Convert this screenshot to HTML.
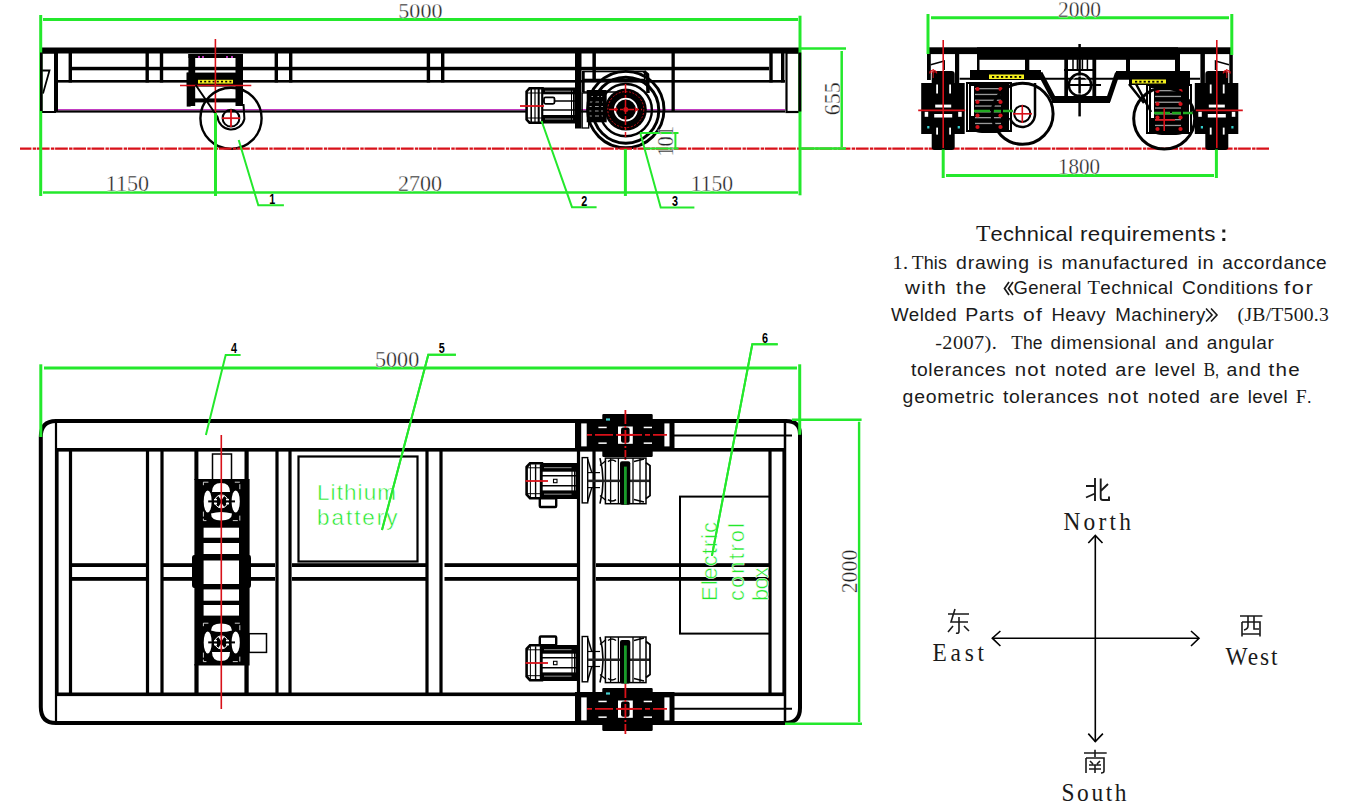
<!DOCTYPE html>
<html><head><meta charset="utf-8"><style>
html,body{margin:0;padding:0;background:#fff;overflow:hidden;width:1345px;height:801px;}
svg{display:block;}
</style></head><body>
<svg width="1345" height="801" viewBox="0 0 1345 801">
<rect width="1345" height="801" fill="#fff"/>
<rect x="40" y="47.5" width="760" height="6" fill="#000" />
<rect x="72" y="66.8" width="697" height="3.5" fill="#000" />
<rect x="55" y="80" width="730" height="2.6" fill="#000" />
<rect x="56" y="109" width="729" height="1.4" fill="#c23cc2" />
<rect x="56" y="110.4" width="729" height="2.2" fill="#000" />
<rect x="41.5" y="52.5" width="13.5" height="59.5" fill="none" stroke="#000" stroke-width="2" />
<polyline points="42,70.5 49.5,70.5 43,93.5" fill="none" stroke="#000" stroke-width="1.8" />
<rect x="786.5" y="52.5" width="13" height="59.5" fill="none" stroke="#000" stroke-width="2.2" />
<rect x="55" y="52.5" width="3" height="59" fill="#000" />
<rect x="68.6" y="52.5" width="3.4" height="30" fill="#000" />
<rect x="145.5" y="52.5" width="3.4" height="30" fill="#000" />
<rect x="159.8" y="52.5" width="3.4" height="30" fill="#000" />
<rect x="274.6" y="52.5" width="3.4" height="30" fill="#000" />
<rect x="289" y="52.5" width="3.4" height="30" fill="#000" />
<rect x="426.7" y="52.5" width="3.4" height="30" fill="#000" />
<rect x="441" y="52.5" width="3.4" height="30" fill="#000" />
<rect x="769.3" y="52.5" width="3.4" height="30" fill="#000" />
<rect x="781" y="52.5" width="3.4" height="30" fill="#000" />
<rect x="575" y="52.5" width="6.5" height="76" fill="#000" />
<rect x="592.4" y="52.5" width="3.5" height="28" fill="#000" />
<rect x="671.5" y="52.5" width="3.3" height="59" fill="#000" />
<rect x="188.4" y="54" width="6.8" height="52" fill="#000" />
<rect x="186.7" y="72.6" width="4" height="34" fill="#000" />
<rect x="235.5" y="54" width="7.5" height="52" fill="#000" />
<rect x="238" y="72" width="5" height="34" fill="#000" />
<rect x="188.4" y="54" width="54.6" height="4" fill="#000" />
<rect x="186.7" y="72.6" width="56.3" height="14" fill="#000" />
<rect x="188.4" y="98.4" width="54.6" height="4" fill="#000" />
<rect x="198" y="79.8" width="35" height="3.8" fill="#f4f01e" />
<rect x="200.0" y="80.8" width="2" height="1.6" fill="#000" />
<rect x="204.2" y="80.8" width="2" height="1.6" fill="#000" />
<rect x="208.4" y="80.8" width="2" height="1.6" fill="#000" />
<rect x="212.6" y="80.8" width="2" height="1.6" fill="#000" />
<rect x="216.8" y="80.8" width="2" height="1.6" fill="#000" />
<rect x="221.0" y="80.8" width="2" height="1.6" fill="#000" />
<rect x="225.2" y="80.8" width="2" height="1.6" fill="#000" />
<rect x="229.4" y="80.8" width="2" height="1.6" fill="#000" />
<rect x="198" y="56" width="2" height="2" fill="#c23cc2" />
<rect x="202" y="56" width="2" height="2" fill="#c23cc2" />
<rect x="226" y="56" width="2" height="2" fill="#c23cc2" />
<rect x="231" y="56" width="2" height="2" fill="#c23cc2" />
<line x1="180" y1="85.5" x2="251.3" y2="85.5" stroke="#d81119" stroke-width="1.6" />
<line x1="215.4" y1="39" x2="215.4" y2="116" stroke="#d81119" stroke-width="1.6" />
<circle cx="231" cy="118.3" r="30.6" fill="none" stroke="#000" stroke-width="2.4" />
<circle cx="231" cy="118.2" r="8.4" fill="none" stroke="#000" stroke-width="2" />
<line x1="222" y1="118.2" x2="240" y2="118.2" stroke="#d81119" stroke-width="1.8" />
<line x1="231" y1="109.5" x2="231" y2="127" stroke="#d81119" stroke-width="1.8" />
<path d="M195.7,85 L217.6,117 A13.6,13.6 0 0 0 244.4,119 L243.5,104" fill="none" stroke="#000" stroke-width="2" />
<rect x="583.3" y="71.5" width="61.5" height="8" fill="none" stroke="#000" stroke-width="1.6" />
<rect x="582" y="71" width="2.7" height="21.5" fill="#000" />
<line x1="583" y1="92" x2="619" y2="92" stroke="#000" stroke-width="1.6" />
<path d="M644,71.5 L647.5,74.5 L648,93" fill="none" stroke="#000" stroke-width="3.5" />
<rect x="586.7" y="90" width="20" height="32.3" fill="#000" />
<line x1="589" y1="96.5" x2="603" y2="96.5" stroke="#999" stroke-width="1.1" stroke-dasharray="4 2"/>
<line x1="589" y1="102" x2="603" y2="102" stroke="#999" stroke-width="1.1" stroke-dasharray="4 2"/>
<line x1="589" y1="106.5" x2="603" y2="106.5" stroke="#999" stroke-width="1.1" stroke-dasharray="4 2"/>
<line x1="589" y1="111" x2="603" y2="111" stroke="#999" stroke-width="1.1" stroke-dasharray="4 2"/>
<line x1="589" y1="116" x2="603" y2="116" stroke="#999" stroke-width="1.1" stroke-dasharray="4 2"/>
<circle cx="625.8" cy="109.6" r="38.2" fill="none" stroke="#000" stroke-width="2.9" />
<circle cx="625.8" cy="110.19999999999999" r="33" fill="none" stroke="#000" stroke-width="3" />
<circle cx="625.8" cy="110.1" r="26.1" fill="none" stroke="#000" stroke-width="2.4" />
<circle cx="625.8" cy="109.6" r="21" fill="#000" stroke="#000" stroke-width="0" />
<circle cx="625.8" cy="109.6" r="18" fill="none" stroke="#d81119" stroke-width="0.9" stroke-dasharray="2 1.5"/>
<circle cx="625.8" cy="109.6" r="11" fill="none" stroke="#fff" stroke-width="1.8" />
<line x1="625.5" y1="84" x2="625.5" y2="137" stroke="#d81119" stroke-width="1.5" stroke-dasharray="9 2 3 2"/>
<line x1="609" y1="109.6" x2="642" y2="109.6" stroke="#d81119" stroke-width="1.5" stroke-dasharray="9 2 3 2"/>
<circle cx="625.8" cy="109.6" r="2.5" fill="#d81119" stroke="#d81119" stroke-width="0" />
<path d="M612.8,109.6 L616.8,107.1 L616.8,112.1 Z M638.8,109.6 L634.8,107.1 L634.8,112.1 Z" fill="#d81119" stroke="#d81119" stroke-width="0" />
<path d="M526.6,91.5 L529.5,88.3 L542.5,88.3 L542.5,122.7 L529.5,122.7 L526.6,119.5 Z" fill="#fff" stroke="#000" stroke-width="2.6"/>
<line x1="531.2" y1="89" x2="531.2" y2="122" stroke="#000" stroke-width="1.6" />
<line x1="535" y1="89" x2="535" y2="122" stroke="#000" stroke-width="1.2" />
<line x1="538.7" y1="89" x2="538.7" y2="122" stroke="#000" stroke-width="2" />
<line x1="527" y1="93" x2="542" y2="93" stroke="#000" stroke-width="1" />
<line x1="527" y1="118" x2="542" y2="118" stroke="#000" stroke-width="1" />
<rect x="542.5" y="88.3" width="32.5" height="34.4" fill="#fff" stroke="#000" stroke-width="1.6"/>
<rect x="542.5" y="88.3" width="32.5" height="6" fill="#000" />
<rect x="542.5" y="115" width="32.5" height="7.7" fill="#000" />
<line x1="545" y1="91.2" x2="573" y2="91.2" stroke="#888" stroke-width="1.1" />
<line x1="545" y1="119" x2="573" y2="119" stroke="#888" stroke-width="1.1" />
<line x1="542.5" y1="101" x2="575" y2="101" stroke="#000" stroke-width="1.3" />
<line x1="542.5" y1="110" x2="575" y2="110" stroke="#000" stroke-width="1.3" />
<rect x="544" y="97.3" width="10.5" height="6.5" rx="1.5" fill="#fff" stroke="#000" stroke-width="1.8"/>
<line x1="571.5" y1="89" x2="571.5" y2="122" stroke="#000" stroke-width="1" />
<line x1="573.5" y1="89" x2="573.5" y2="122" stroke="#000" stroke-width="1" />
<rect x="582.2" y="93" width="6.5" height="35" fill="none" stroke="#000" stroke-width="1.3" />
<line x1="520" y1="106" x2="544" y2="106" stroke="#d81119" stroke-width="1.8" />
<line x1="20" y1="148.6" x2="1269" y2="148.6" stroke="#d81119" stroke-width="2.2" stroke-dasharray="12.7 1.3 3.4 0.8" stroke-dashoffset="1.3"/>
<line x1="40.7" y1="15" x2="40.7" y2="196" stroke="#24e82c" stroke-width="3" />
<line x1="800" y1="15.7" x2="800" y2="195.3" stroke="#24e82c" stroke-width="3" />
<line x1="43" y1="19.5" x2="798" y2="19.5" stroke="#24e82c" stroke-width="3" />
<line x1="43" y1="192.5" x2="798" y2="192.5" stroke="#24e82c" stroke-width="2.6" />
<line x1="215.5" y1="113" x2="215.5" y2="196" stroke="#24e82c" stroke-width="3" />
<line x1="625.4" y1="149" x2="625.4" y2="196" stroke="#24e82c" stroke-width="3" />
<line x1="800" y1="48.5" x2="846" y2="48.5" stroke="#24e82c" stroke-width="2.5" />
<line x1="841.7" y1="51" x2="841.7" y2="147" stroke="#24e82c" stroke-width="2.5" />
<line x1="800" y1="148.6" x2="846" y2="148.6" stroke="#24e82c" stroke-width="2.5" />
<rect x="40" y="52.5" width="2.5" height="58.5" fill="#000" />
<rect x="798.5" y="52.5" width="2.8" height="59" fill="#000" />
<polyline points="238.7,140 258.3,205.3 283.9,205.3" fill="none" stroke="#24e82c" stroke-width="2" />
<polyline points="541.6,121 572,207.2 596.6,207.2" fill="none" stroke="#24e82c" stroke-width="2" />
<polyline points="640.4,133.4 660.7,207.4 694.4,207.4" fill="none" stroke="#24e82c" stroke-width="2" />
<line x1="640" y1="133" x2="678.5" y2="133" stroke="#24e82c" stroke-width="2" />
<line x1="645" y1="148.6" x2="678.5" y2="148.6" stroke="#24e82c" stroke-width="2" />
<line x1="675.4" y1="133" x2="675.4" y2="148.6" stroke="#24e82c" stroke-width="2" />
<text x="398.34" y="17.70" font-family="Liberation Serif" font-size="21.48" fill="#222" stroke="#fff" stroke-width="0.35" textLength="44.12" lengthAdjust="spacingAndGlyphs">5000</text>
<text x="105.82" y="190.50" font-family="Liberation Serif" font-size="22.07" fill="#222" stroke="#fff" stroke-width="0.35" textLength="43.27" lengthAdjust="spacingAndGlyphs">1150</text>
<text x="398.00" y="190.50" font-family="Liberation Serif" font-size="22.52" fill="#222" stroke="#fff" stroke-width="0.35" textLength="44.00" lengthAdjust="spacingAndGlyphs">2700</text>
<text x="690.81" y="190.50" font-family="Liberation Serif" font-size="22.22" fill="#222" stroke="#fff" stroke-width="0.35" textLength="42.38" lengthAdjust="spacingAndGlyphs">1150</text>
<text x="0" y="0" transform="translate(840.20,115.22) rotate(-90)" font-family="Liberation Serif" font-size="23.11" fill="#222" stroke="#fff" stroke-width="0.35" textLength="33.05" lengthAdjust="spacingAndGlyphs">655</text>
<text x="0" y="0" transform="translate(673.20,156.61) rotate(-90)" font-family="Liberation Serif" font-size="22.67" fill="#222" stroke="#fff" stroke-width="0.35" textLength="30.51" lengthAdjust="spacingAndGlyphs">101</text>
<text x="269.2" y="203.7" font-family="Liberation Sans" font-weight="bold" font-size="14.5" fill="#000" textLength="6" lengthAdjust="spacingAndGlyphs">1</text>
<text x="581.3" y="205.8" font-family="Liberation Sans" font-weight="bold" font-size="14.5" fill="#000" textLength="6" lengthAdjust="spacingAndGlyphs">2</text>
<text x="671.9" y="205.8" font-family="Liberation Sans" font-weight="bold" font-size="14.5" fill="#000" textLength="6" lengthAdjust="spacingAndGlyphs">3</text>
<rect x="927" y="47.3" width="305" height="6.8" fill="#000" />
<rect x="977" y="47.3" width="201" height="12.5" fill="#000" />
<rect x="927" y="53" width="3.8" height="27" fill="#000" />
<rect x="955" y="53" width="4.2" height="41" fill="#000" />
<rect x="977" y="59" width="2.5" height="11" fill="#000" />
<rect x="1025" y="59" width="4.3" height="11" fill="#000" />
<rect x="1126" y="59" width="4" height="12" fill="#000" />
<rect x="1175" y="59" width="3" height="12" fill="#000" />
<rect x="1178" y="53" width="2" height="20" fill="#000" />
<rect x="1200.4" y="53" width="4.5" height="41" fill="#000" />
<rect x="1229.3" y="53" width="3.5" height="32" fill="#000" />
<polyline points="930.7,64.7 944.2,61 944.2,70" fill="none" stroke="#000" stroke-width="1.5" />
<polyline points="1229,64.7 1215.5,61 1215.5,70" fill="none" stroke="#000" stroke-width="1.5" />
<line x1="959.6" y1="78.8" x2="1200" y2="78.8" stroke="#000" stroke-width="2" />
<rect x="970" y="70" width="71" height="10" fill="#000" />
<rect x="1116" y="71" width="74" height="7" fill="#000" />
<rect x="1129" y="71" width="61" height="14" fill="#000" />
<path d="M1040,73 L1054,99.5 L1108.5,99.5 L1117.5,73" fill="none" stroke="#000" stroke-width="5" />
<rect x="1052" y="96" width="58" height="7" fill="#000" />
<rect x="1064.3" y="59" width="3.7" height="37" fill="#000" />
<rect x="1092.4" y="59" width="3.8" height="37" fill="#000" />
<line x1="1073" y1="59" x2="1073" y2="70" stroke="#000" stroke-width="1.5" />
<line x1="1077.4" y1="59" x2="1077.4" y2="70" stroke="#000" stroke-width="1.5" />
<line x1="1082.4" y1="59" x2="1082.4" y2="70" stroke="#000" stroke-width="1.5" />
<line x1="1087.4" y1="59" x2="1087.4" y2="70" stroke="#000" stroke-width="1.5" />
<line x1="1064" y1="70" x2="1096" y2="70" stroke="#000" stroke-width="2" />
<line x1="1079.6" y1="44" x2="1079.6" y2="116.4" stroke="#000" stroke-width="2.5" />
<circle cx="1080" cy="85" r="11.2" fill="none" stroke="#000" stroke-width="2.5" />
<circle cx="1080" cy="85" r="9" fill="none" stroke="#fff" stroke-width="0.8" />
<line x1="1070" y1="85" x2="1101" y2="85" stroke="#000" stroke-width="2" />
<rect x="967" y="83" width="44" height="48" fill="none" stroke="#000" stroke-width="2" />
<rect x="969" y="84" width="40" height="46" fill="#000" />
<rect x="975" y="88.0" width="26" height="1.3" fill="#999" />
<rect x="975" y="93.8" width="26" height="1.3" fill="#999" />
<rect x="975" y="99.6" width="26" height="1.3" fill="#999" />
<rect x="975" y="105.4" width="26" height="1.3" fill="#999" />
<rect x="975" y="111.2" width="26" height="1.3" fill="#999" />
<rect x="975" y="117.0" width="26" height="1.3" fill="#999" />
<rect x="975" y="122.8" width="26" height="1.3" fill="#999" />
<rect x="971" y="86" width="3" height="30" fill="#fff" />
<circle cx="977.5" cy="89" r="2.1" fill="#d81119" stroke="#d81119" stroke-width="0" />
<circle cx="1000.5" cy="89" r="2.1" fill="#d81119" stroke="#d81119" stroke-width="0" />
<circle cx="977.5" cy="102" r="2.1" fill="#d81119" stroke="#d81119" stroke-width="0" />
<circle cx="1000.5" cy="102" r="2.1" fill="#d81119" stroke="#d81119" stroke-width="0" />
<circle cx="977.5" cy="115.5" r="2.1" fill="#d81119" stroke="#d81119" stroke-width="0" />
<circle cx="1000.5" cy="115.5" r="2.1" fill="#d81119" stroke="#d81119" stroke-width="0" />
<circle cx="977.5" cy="127" r="2.1" fill="#d81119" stroke="#d81119" stroke-width="0" />
<circle cx="1000.5" cy="127" r="2.1" fill="#d81119" stroke="#d81119" stroke-width="0" />
<line x1="974" y1="111" x2="1013" y2="111" stroke="#2a2" stroke-width="2.5" stroke-dasharray="16 2 9 2"/>
<path d="M971,120 Q971,132 982,132 L996,132 Q1007,132 1007,120" fill="none" stroke="#000" stroke-width="2"/>
<rect x="1147" y="85" width="44" height="48" fill="none" stroke="#000" stroke-width="2" />
<rect x="1149" y="86" width="40" height="46" fill="#000" />
<rect x="1155" y="90.0" width="26" height="1.3" fill="#999" />
<rect x="1155" y="95.8" width="26" height="1.3" fill="#999" />
<rect x="1155" y="101.6" width="26" height="1.3" fill="#999" />
<rect x="1155" y="107.4" width="26" height="1.3" fill="#999" />
<rect x="1155" y="113.2" width="26" height="1.3" fill="#999" />
<rect x="1155" y="119.0" width="26" height="1.3" fill="#999" />
<rect x="1155" y="124.8" width="26" height="1.3" fill="#999" />
<rect x="1151" y="88" width="3" height="30" fill="#fff" />
<circle cx="1157.5" cy="91" r="2.1" fill="#d81119" stroke="#d81119" stroke-width="0" />
<circle cx="1180.5" cy="91" r="2.1" fill="#d81119" stroke="#d81119" stroke-width="0" />
<circle cx="1157.5" cy="104" r="2.1" fill="#d81119" stroke="#d81119" stroke-width="0" />
<circle cx="1180.5" cy="104" r="2.1" fill="#d81119" stroke="#d81119" stroke-width="0" />
<circle cx="1157.5" cy="117.5" r="2.1" fill="#d81119" stroke="#d81119" stroke-width="0" />
<circle cx="1180.5" cy="117.5" r="2.1" fill="#d81119" stroke="#d81119" stroke-width="0" />
<circle cx="1157.5" cy="129" r="2.1" fill="#d81119" stroke="#d81119" stroke-width="0" />
<circle cx="1180.5" cy="129" r="2.1" fill="#d81119" stroke="#d81119" stroke-width="0" />
<line x1="1154" y1="113" x2="1193" y2="113" stroke="#2a2" stroke-width="2.5" stroke-dasharray="16 2 9 2"/>
<path d="M1151,122 Q1151,134 1162,134 L1176,134 Q1187,134 1187,122" fill="none" stroke="#000" stroke-width="2"/>
<rect x="989" y="74.5" width="35" height="4.5" fill="#f4f01e" />
<rect x="1132" y="79.5" width="34" height="4" fill="#f4f01e" />
<rect x="992.0" y="76" width="2.2" height="1.8" fill="#000" />
<rect x="1135.0" y="80.8" width="2.2" height="1.8" fill="#000" />
<rect x="996.5" y="76" width="2.2" height="1.8" fill="#000" />
<rect x="1139.3" y="80.8" width="2.2" height="1.8" fill="#000" />
<rect x="1001.0" y="76" width="2.2" height="1.8" fill="#000" />
<rect x="1143.6" y="80.8" width="2.2" height="1.8" fill="#000" />
<rect x="1005.5" y="76" width="2.2" height="1.8" fill="#000" />
<rect x="1147.9" y="80.8" width="2.2" height="1.8" fill="#000" />
<rect x="1010.0" y="76" width="2.2" height="1.8" fill="#000" />
<rect x="1152.2" y="80.8" width="2.2" height="1.8" fill="#000" />
<rect x="1014.5" y="76" width="2.2" height="1.8" fill="#000" />
<rect x="1156.5" y="80.8" width="2.2" height="1.8" fill="#000" />
<rect x="1019.0" y="76" width="2.2" height="1.8" fill="#000" />
<rect x="1160.8" y="80.8" width="2.2" height="1.8" fill="#000" />
<circle cx="1022.6" cy="113.8" r="30.5" fill="none" stroke="#000" stroke-width="3" />
<circle cx="1022.3" cy="113.8" r="8.1" fill="none" stroke="#000" stroke-width="2" />
<line x1="1013" y1="113.8" x2="1032" y2="113.8" stroke="#d81119" stroke-width="1.6" />
<line x1="1022.3" y1="105" x2="1022.3" y2="123" stroke="#d81119" stroke-width="1.6" />
<path d="M1035,83 L1035,115 A12.8,12.8 0 0 1 1010,118" fill="none" stroke="#000" stroke-width="2.5" />
<circle cx="1164.2" cy="118.6" r="30.5" fill="none" stroke="#000" stroke-width="3" />
<line x1="1155" y1="120" x2="1175" y2="120" stroke="#d81119" stroke-width="1.6" />
<line x1="1164.2" y1="108" x2="1164.2" y2="131" stroke="#d81119" stroke-width="1.6" />
<path d="M1129,84 L1144,103 M1136,84 L1151,112" fill="none" stroke="#000" stroke-width="2.5" />
<rect x="921.2" y="83" width="43.5" height="51" fill="#000" />
<rect x="931.7" y="71" width="23" height="79" rx="3" fill="#000"/>
<rect x="936.2" y="84.5" width="1.8" height="9" fill="#fff" />
<rect x="936.2" y="127.6" width="1.8" height="7" fill="#fff" />
<rect x="949.2" y="84.5" width="1.8" height="9" fill="#fff" />
<rect x="949.2" y="127.6" width="1.8" height="7" fill="#fff" />
<rect x="935.2" y="104.6" width="16" height="2.9" fill="#fff" />
<rect x="934.2" y="114" width="18" height="3.5" fill="#fff" />
<rect x="924.7" y="111.8" width="3.5" height="5" fill="#fff" />
<rect x="958.2" y="111.8" width="3.5" height="5" fill="#fff" />
<rect x="927.2" y="126" width="2.2" height="2.5" fill="#3cc" />
<rect x="957.7" y="126" width="2.2" height="2.5" fill="#3cc" />
<line x1="943.2" y1="40" x2="943.2" y2="148" stroke="#d81119" stroke-width="1.6" />
<line x1="918.2" y1="110.4" x2="965.2" y2="110.4" stroke="#d81119" stroke-width="1.6" />
<path d="M929.7,73.5 a3.5,3.5 0 0 1 7,0 M933.2,69 L933.2,78 M929.2,72 L937.2,72" fill="none" stroke="#d81119" stroke-width="1" transform="translate(943.2,0) scale(1,1) translate(-943.2,0)"/>
<rect x="1194.8" y="83" width="43.5" height="51" fill="#000" />
<rect x="1205.3" y="71" width="23" height="79" rx="3" fill="#000"/>
<rect x="1209.8" y="84.5" width="1.8" height="9" fill="#fff" />
<rect x="1209.8" y="127.6" width="1.8" height="7" fill="#fff" />
<rect x="1222.8" y="84.5" width="1.8" height="9" fill="#fff" />
<rect x="1222.8" y="127.6" width="1.8" height="7" fill="#fff" />
<rect x="1208.8" y="104.6" width="16" height="2.9" fill="#fff" />
<rect x="1207.8" y="114" width="18" height="3.5" fill="#fff" />
<rect x="1198.3" y="111.8" width="3.5" height="5" fill="#fff" />
<rect x="1231.8" y="111.8" width="3.5" height="5" fill="#fff" />
<rect x="1200.8" y="126" width="2.2" height="2.5" fill="#3cc" />
<rect x="1231.3" y="126" width="2.2" height="2.5" fill="#3cc" />
<line x1="1216.8" y1="40" x2="1216.8" y2="148" stroke="#d81119" stroke-width="1.6" />
<line x1="1195.8" y1="110.4" x2="1242.8" y2="110.4" stroke="#d81119" stroke-width="1.6" />
<path d="M1203.3,73.5 a3.5,3.5 0 0 1 7,0 M1206.8,69 L1206.8,78 M1202.8,72 L1210.8,72" fill="none" stroke="#d81119" stroke-width="1" transform="translate(1216.8,0) scale(-1,1) translate(-1216.8,0)"/>
<line x1="928" y1="14" x2="928" y2="54" stroke="#24e82c" stroke-width="3" />
<line x1="1231.8" y1="14" x2="1231.8" y2="55" stroke="#24e82c" stroke-width="3" />
<line x1="931" y1="17.8" x2="1229" y2="17.8" stroke="#24e82c" stroke-width="3" />
<line x1="943.2" y1="149.5" x2="943.2" y2="178" stroke="#24e82c" stroke-width="3" />
<line x1="1216.4" y1="149.5" x2="1216.4" y2="178" stroke="#24e82c" stroke-width="3" />
<line x1="946" y1="175.6" x2="1214" y2="175.6" stroke="#24e82c" stroke-width="3" />
<text x="1058.00" y="16.70" font-family="Liberation Serif" font-size="22.52" fill="#222" stroke="#fff" stroke-width="0.35" textLength="42.90" lengthAdjust="spacingAndGlyphs">2000</text>
<text x="1057.99" y="173.80" font-family="Liberation Serif" font-size="22.81" fill="#222" stroke="#fff" stroke-width="0.35" textLength="42.03" lengthAdjust="spacingAndGlyphs">1800</text>
<text x="975.9" y="241" font-family="Liberation Sans" font-size="21" fill="#1a1a1a" letter-spacing="0.29" textLength="97.3" lengthAdjust="spacingAndGlyphs"><tspan font-family="Liberation Serif" font-size="22.68">T</tspan>echnical</text>
<text x="1079.9" y="241" font-family="Liberation Sans" font-size="21" fill="#1a1a1a" letter-spacing="0.44" textLength="135.9" lengthAdjust="spacingAndGlyphs">requirements</text>
<rect x="1222.3" y="229.5" width="3" height="3" fill="#1a1a1a" />
<rect x="1222.3" y="238" width="3" height="3" fill="#1a1a1a" />
<text x="892.6" y="269" font-family="Liberation Sans" font-size="17.5" fill="#1a1a1a" letter-spacing="0.35" textLength="15.9" lengthAdjust="spacingAndGlyphs"><tspan font-family="Liberation Serif" font-size="18.90">1.</tspan></text>
<text x="911.8" y="269" font-family="Liberation Sans" font-size="17.5" fill="#1a1a1a" letter-spacing="0.13" textLength="35.2" lengthAdjust="spacingAndGlyphs"><tspan font-family="Liberation Serif" font-size="18.90">T</tspan>his</text>
<text x="956.1" y="269" font-family="Liberation Sans" font-size="17.5" fill="#1a1a1a" letter-spacing="0.71" textLength="73.7" lengthAdjust="spacingAndGlyphs">drawing</text>
<text x="1038.1" y="269" font-family="Liberation Sans" font-size="17.5" fill="#1a1a1a" letter-spacing="0.49" textLength="15.1" lengthAdjust="spacingAndGlyphs">is</text>
<text x="1061.5" y="269" font-family="Liberation Sans" font-size="17.5" fill="#1a1a1a" letter-spacing="0.68" textLength="127.3" lengthAdjust="spacingAndGlyphs">manufactured</text>
<text x="1197.4" y="269" font-family="Liberation Sans" font-size="17.5" fill="#1a1a1a" letter-spacing="0.70" textLength="17.1" lengthAdjust="spacingAndGlyphs">in</text>
<text x="1222.2" y="269" font-family="Liberation Sans" font-size="17.5" fill="#1a1a1a" letter-spacing="0.59" textLength="105.2" lengthAdjust="spacingAndGlyphs">accordance</text>
<text x="905.1" y="294" font-family="Liberation Sans" font-size="17.5" fill="#1a1a1a" letter-spacing="1.08" textLength="41.9" lengthAdjust="spacingAndGlyphs">with</text>
<text x="956.1" y="294" font-family="Liberation Sans" font-size="17.5" fill="#1a1a1a" letter-spacing="0.90" textLength="31.1" lengthAdjust="spacingAndGlyphs">the</text>
<text x="1013.5" y="294" font-family="Liberation Sans" font-size="17.5" fill="#1a1a1a" letter-spacing="0.34" textLength="68.2" lengthAdjust="spacingAndGlyphs">General</text>
<path d="M1009,282 L1004.5,288.5 L1009,295 M1013,282 L1008.5,288.5 L1013,295" fill="none" stroke="#1a1a1a" stroke-width="1.7" />
<text x="1087.4" y="294" font-family="Liberation Sans" font-size="17.5" fill="#1a1a1a" letter-spacing="0.46" textLength="86.1" lengthAdjust="spacingAndGlyphs"><tspan font-family="Liberation Serif" font-size="18.90">T</tspan>echnical</text>
<text x="1182.0" y="294" font-family="Liberation Sans" font-size="17.5" fill="#1a1a1a" letter-spacing="0.56" textLength="96.7" lengthAdjust="spacingAndGlyphs">Conditions</text>
<text x="1284.0" y="294" font-family="Liberation Sans" font-size="17.5" fill="#1a1a1a" letter-spacing="1.36" textLength="30.6" lengthAdjust="spacingAndGlyphs">for</text>
<text x="890.9" y="321" font-family="Liberation Sans" font-size="17.5" fill="#1a1a1a" letter-spacing="0.48" textLength="66.2" lengthAdjust="spacingAndGlyphs">Welded</text>
<text x="965.3" y="321" font-family="Liberation Sans" font-size="17.5" fill="#1a1a1a" letter-spacing="0.69" textLength="49.5" lengthAdjust="spacingAndGlyphs">Parts</text>
<text x="1023.0" y="321" font-family="Liberation Sans" font-size="17.5" fill="#1a1a1a" letter-spacing="1.12" textLength="20.2" lengthAdjust="spacingAndGlyphs">of</text>
<text x="1051.5" y="321" font-family="Liberation Sans" font-size="17.5" fill="#1a1a1a" letter-spacing="0.38" textLength="54.4" lengthAdjust="spacingAndGlyphs">Heavy</text>
<text x="1115.3" y="321" font-family="Liberation Sans" font-size="17.5" fill="#1a1a1a" letter-spacing="0.43" textLength="90.5" lengthAdjust="spacingAndGlyphs">Machinery</text>
<path d="M1206,308.5 L1212,315 L1206,321.5 M1211,308.5 L1217,315 L1211,321.5" fill="none" stroke="#1a1a1a" stroke-width="1.6" />
<text x="1237.6" y="321" font-family="Liberation Sans" font-size="17.5" fill="#1a1a1a" letter-spacing="0.24" textLength="91.5" lengthAdjust="spacingAndGlyphs"><tspan font-family="Liberation Serif" font-size="18.90">(JB/T500.3</tspan></text>
<text x="935.2" y="349" font-family="Liberation Sans" font-size="17.5" fill="#1a1a1a" letter-spacing="0.39" textLength="62.0" lengthAdjust="spacingAndGlyphs"><tspan font-family="Liberation Serif" font-size="18.90">-2007).</tspan></text>
<text x="1011.3" y="349" font-family="Liberation Sans" font-size="17.5" fill="#1a1a1a" letter-spacing="0.01" textLength="31.1" lengthAdjust="spacingAndGlyphs"><tspan font-family="Liberation Serif" font-size="18.90">T</tspan>he</text>
<text x="1050.6" y="349" font-family="Liberation Sans" font-size="17.5" fill="#1a1a1a" letter-spacing="0.45" textLength="105.8" lengthAdjust="spacingAndGlyphs">dimensional</text>
<text x="1164.9" y="349" font-family="Liberation Sans" font-size="17.5" fill="#1a1a1a" letter-spacing="0.67" textLength="34.2" lengthAdjust="spacingAndGlyphs">and</text>
<text x="1206.8" y="349" font-family="Liberation Sans" font-size="17.5" fill="#1a1a1a" letter-spacing="0.53" textLength="67.6" lengthAdjust="spacingAndGlyphs">angular</text>
<text x="911.0" y="376.3" font-family="Liberation Sans" font-size="17.5" fill="#1a1a1a" letter-spacing="0.59" textLength="95.4" lengthAdjust="spacingAndGlyphs">tolerances</text>
<text x="1014.7" y="376.3" font-family="Liberation Sans" font-size="17.5" fill="#1a1a1a" letter-spacing="1.01" textLength="31.9" lengthAdjust="spacingAndGlyphs">not</text>
<text x="1054.8" y="376.3" font-family="Liberation Sans" font-size="17.5" fill="#1a1a1a" letter-spacing="0.72" textLength="52.8" lengthAdjust="spacingAndGlyphs">noted</text>
<text x="1115.3" y="376.3" font-family="Liberation Sans" font-size="17.5" fill="#1a1a1a" letter-spacing="0.85" textLength="31.7" lengthAdjust="spacingAndGlyphs">are</text>
<text x="1154.6" y="376.3" font-family="Liberation Sans" font-size="17.5" fill="#1a1a1a" letter-spacing="0.41" textLength="41.1" lengthAdjust="spacingAndGlyphs">level</text>
<text x="1203.4" y="376.3" font-family="Liberation Sans" font-size="17.5" fill="#1a1a1a" letter-spacing="-0.41" textLength="15.4" lengthAdjust="spacingAndGlyphs"><tspan font-family="Liberation Serif" font-size="18.90">B</tspan>,</text>
<text x="1226.5" y="376.3" font-family="Liberation Sans" font-size="17.5" fill="#1a1a1a" letter-spacing="0.79" textLength="35.1" lengthAdjust="spacingAndGlyphs">and</text>
<text x="1268.4" y="376.3" font-family="Liberation Sans" font-size="17.5" fill="#1a1a1a" letter-spacing="1.09" textLength="32.5" lengthAdjust="spacingAndGlyphs">the</text>
<text x="902.6" y="402.8" font-family="Liberation Sans" font-size="17.5" fill="#1a1a1a" letter-spacing="0.68" textLength="92.1" lengthAdjust="spacingAndGlyphs">geometric</text>
<text x="1003.0" y="402.8" font-family="Liberation Sans" font-size="17.5" fill="#1a1a1a" letter-spacing="0.62" textLength="96.2" lengthAdjust="spacingAndGlyphs">tolerances</text>
<text x="1107.6" y="402.8" font-family="Liberation Sans" font-size="17.5" fill="#1a1a1a" letter-spacing="0.98" textLength="31.7" lengthAdjust="spacingAndGlyphs">not</text>
<text x="1147.8" y="402.8" font-family="Liberation Sans" font-size="17.5" fill="#1a1a1a" letter-spacing="0.74" textLength="53.0" lengthAdjust="spacingAndGlyphs">noted</text>
<text x="1209.4" y="402.8" font-family="Liberation Sans" font-size="17.5" fill="#1a1a1a" letter-spacing="0.73" textLength="30.8" lengthAdjust="spacingAndGlyphs">are</text>
<text x="1247.8" y="402.8" font-family="Liberation Sans" font-size="17.5" fill="#1a1a1a" letter-spacing="0.34" textLength="40.3" lengthAdjust="spacingAndGlyphs">level</text>
<text x="1295.7" y="402.8" font-family="Liberation Sans" font-size="17.5" fill="#1a1a1a" letter-spacing="0.19" textLength="16.3" lengthAdjust="spacingAndGlyphs"><tspan font-family="Liberation Serif" font-size="18.90">F</tspan>.</text>
<path d="M40.8,437 L40.8,707 Q40.8,723 56,723 L785,723 Q800,723 800,708 L800,434 Q800,421 786,421 L56,421 Q40.8,421 40.8,437" fill="none" stroke="#000" stroke-width="4" />
<rect x="56" y="448" width="729" height="3.6" fill="#000" />
<rect x="56" y="692.5" width="729" height="3.6" fill="#000" />
<line x1="56" y1="421" x2="56" y2="723" stroke="#000" stroke-width="2.2" />
<line x1="785" y1="421" x2="785" y2="723" stroke="#000" stroke-width="2.5" />
<rect x="72" y="563.2" width="74" height="3.8" fill="#000" />
<rect x="163" y="563.2" width="32" height="3.8" fill="#000" />
<rect x="249" y="563.2" width="26" height="3.8" fill="#000" />
<rect x="292" y="563.2" width="135" height="3.8" fill="#000" />
<rect x="444.5" y="563.2" width="134.0" height="3.8" fill="#000" />
<rect x="596" y="563.2" width="173" height="3.8" fill="#000" />
<rect x="72" y="577.0" width="74" height="3.8" fill="#000" />
<rect x="163" y="577.0" width="32" height="3.8" fill="#000" />
<rect x="249" y="577.0" width="26" height="3.8" fill="#000" />
<rect x="292" y="577.0" width="135" height="3.8" fill="#000" />
<rect x="444.5" y="577.0" width="134.0" height="3.8" fill="#000" />
<rect x="596" y="577.0" width="173" height="3.8" fill="#000" />
<line x1="668" y1="435.4" x2="792" y2="435.4" stroke="#000" stroke-width="2" />
<line x1="595" y1="708.7" x2="792" y2="708.7" stroke="#000" stroke-width="2" />
<rect x="55.4" y="450" width="3.2" height="243" fill="#000" />
<rect x="68.9" y="450" width="3.2" height="243" fill="#000" />
<rect x="145.9" y="450" width="3.2" height="243" fill="#000" />
<rect x="160.4" y="450" width="3.2" height="243" fill="#000" />
<rect x="275.4" y="450" width="3.2" height="243" fill="#000" />
<rect x="288.4" y="450" width="3.2" height="243" fill="#000" />
<rect x="425.4" y="450" width="3.2" height="243" fill="#000" />
<rect x="439.4" y="450" width="3.2" height="243" fill="#000" />
<rect x="576.9" y="450" width="3.2" height="243" fill="#000" />
<rect x="592.4" y="450" width="3.2" height="243" fill="#000" />
<rect x="768.4" y="450" width="3.2" height="243" fill="#000" />
<rect x="782.4" y="450" width="3.2" height="243" fill="#000" />
<rect x="298.5" y="456.5" width="119" height="105" fill="none" stroke="#000" stroke-width="2.2" />
<rect x="680" y="496.6" width="90" height="137" fill="none" stroke="#000" stroke-width="2" />
<rect x="194.4" y="450" width="4" height="30" fill="#000" />
<rect x="244.5" y="450" width="4.2" height="30" fill="#000" />
<rect x="212.5" y="454" width="19" height="26" fill="none" stroke="#000" stroke-width="1.5" />
<path d="M194.4,479 L249.6,479 L249.6,555 Q251,555 251,558 L251,585 Q251,588 249.6,588 L249.6,665.5 L194.4,665.5 L194.4,588 Q192,588 192,585 L192,558 Q192,555 194.4,555 Z" fill="#000"/>
<rect x="203.6" y="527.7" width="35.4" height="10.0" fill="#fff" />
<rect x="203.6" y="543" width="35.4" height="11" fill="#fff" />
<rect x="203.6" y="560.5" width="35.4" height="23.5" fill="#fff" />
<rect x="203.6" y="589.4" width="35.4" height="11.300000000000068" fill="#fff" />
<rect x="203.6" y="605" width="35.4" height="10.600000000000023" fill="#fff" />
<rect x="194.4" y="664" width="4.2" height="29" fill="#000" />
<rect x="244.4" y="664" width="4.3" height="29" fill="#000" />
<rect x="203.4" y="482.2" width="36.4" height="38.4" fill="none" stroke="#fff" stroke-width="0.8" stroke-dasharray="5 26.4 5 2"/>
<ellipse cx="207.7" cy="501.4" rx="4" ry="11" fill="#fff"/>
<ellipse cx="235.7" cy="501.4" rx="4.1" ry="11" fill="#fff"/>
<path d="M212,491.9 Q212,482.9 221,482.9 Q230,482.9 230,491.9 Z" fill="#fff"/>
<path d="M211,513.4 Q221,510.4 232,513.4 Q232,520.4 221,520.4 Q211,520.4 211,513.4 Z" fill="#fff"/>
<circle cx="221.3" cy="501.4" r="8.9" fill="#000" stroke="#000" stroke-width="0" />
<circle cx="221.3" cy="501.4" r="6.5" fill="none" stroke="#fff" stroke-width="1" />
<path d="M218,495.4 L224.5,495.4 L221.3,500.4 Z M218,507.4 L224.5,507.4 L221.3,502.4 Z" fill="#fff"/>
<rect x="214" y="498.9" width="3" height="2" fill="#fff" />
<rect x="226" y="498.9" width="3" height="2" fill="#fff" />
<rect x="214" y="502.4" width="3" height="2" fill="#fff" />
<rect x="226" y="502.4" width="3" height="2" fill="#fff" />
<line x1="208.2" y1="501.4" x2="235" y2="501.4" stroke="#000" stroke-width="2" />
<rect x="203.4" y="623.1999999999999" width="36.4" height="38.4" fill="none" stroke="#fff" stroke-width="0.8" stroke-dasharray="5 26.4 5 2"/>
<ellipse cx="207.7" cy="642.4" rx="4" ry="11" fill="#fff"/>
<ellipse cx="235.7" cy="642.4" rx="4.1" ry="11" fill="#fff"/>
<path d="M212,651.9 Q212,660.9 221,660.9 Q230,660.9 230,651.9 Z" fill="#fff"/>
<path d="M211,630.4 Q221,633.4 232,630.4 Q232,623.4 221,623.4 Q211,623.4 211,630.4 Z" fill="#fff"/>
<circle cx="221.3" cy="642.4" r="8.9" fill="#000" stroke="#000" stroke-width="0" />
<circle cx="221.3" cy="642.4" r="6.5" fill="none" stroke="#fff" stroke-width="1" />
<path d="M218,636.4 L224.5,636.4 L221.3,641.4 Z M218,648.4 L224.5,648.4 L221.3,643.4 Z" fill="#fff"/>
<rect x="214" y="639.9" width="3" height="2" fill="#fff" />
<rect x="226" y="639.9" width="3" height="2" fill="#fff" />
<rect x="214" y="643.4" width="3" height="2" fill="#fff" />
<rect x="226" y="643.4" width="3" height="2" fill="#fff" />
<line x1="208.2" y1="642.4" x2="235" y2="642.4" stroke="#000" stroke-width="2" />
<rect x="249" y="633.7" width="17.5" height="18.7" fill="none" stroke="#000" stroke-width="1.5" />
<line x1="221.3" y1="435" x2="221.3" y2="709" stroke="#d81119" stroke-width="1.6" />
<rect x="575" y="419" width="99.5" height="32" fill="#000" />
<rect x="602.3" y="413.9" width="50.4" height="43" fill="#000" rx="1.2"/>
<rect x="581.2" y="423.4" width="5.5" height="23" fill="#fff" />
<rect x="664.4" y="423.4" width="5.1" height="23" fill="#fff" />
<rect x="598.4" y="426.7" width="8.3" height="1.5" fill="#fff" />
<rect x="598.4" y="442.4" width="8.3" height="1.5" fill="#fff" />
<rect x="643.7" y="426.7" width="8.3" height="1.5" fill="#fff" />
<rect x="643.7" y="442.4" width="8.3" height="1.5" fill="#fff" />
<rect x="618" y="426.5" width="14.8" height="17.3" fill="#fff" />
<rect x="621" y="427.5" width="8.6" height="15.3" fill="#000" rx="2"/>
<line x1="587" y1="434.9" x2="667" y2="434.9" stroke="#d81119" stroke-width="1.8" stroke-dasharray="5 3 18 3" stroke-dashoffset="0"/>
<line x1="625.4" y1="409.9" x2="625.4" y2="459.9" stroke="#d81119" stroke-width="1.8" stroke-dasharray="14 2 2 2"/>
<line x1="618" y1="434.9" x2="633" y2="434.9" stroke="#d81119" stroke-width="2" />
<rect x="606" y="418.4" width="4" height="2.2" fill="#4cc" />
<rect x="575" y="692" width="99.5" height="32.89999999999998" fill="#000" />
<rect x="602.3" y="687.9" width="50.4" height="43" fill="#000" rx="1.2"/>
<rect x="581.2" y="697.4" width="5.5" height="23" fill="#fff" />
<rect x="664.4" y="697.4" width="5.1" height="23" fill="#fff" />
<rect x="598.4" y="700.6999999999999" width="8.3" height="1.5" fill="#fff" />
<rect x="598.4" y="716.4" width="8.3" height="1.5" fill="#fff" />
<rect x="643.7" y="700.6999999999999" width="8.3" height="1.5" fill="#fff" />
<rect x="643.7" y="716.4" width="8.3" height="1.5" fill="#fff" />
<rect x="618" y="700.5" width="14.8" height="17.3" fill="#fff" />
<rect x="621" y="701.5" width="8.6" height="15.3" fill="#000" rx="2"/>
<line x1="587" y1="708.9" x2="667" y2="708.9" stroke="#d81119" stroke-width="1.8" stroke-dasharray="5 3 18 3" stroke-dashoffset="0"/>
<line x1="625.4" y1="683.9" x2="625.4" y2="733.9" stroke="#d81119" stroke-width="1.8" stroke-dasharray="14 2 2 2"/>
<line x1="618" y1="708.9" x2="633" y2="708.9" stroke="#d81119" stroke-width="2" />
<rect x="606" y="692.4" width="4" height="2.2" fill="#4cc" />
<path d="M526.6,467.0 L530,463.3 L541.9,463.3 L541.9,498.2 L530,498.2 L526.6,494.5 Z" fill="#fff" stroke="#000" stroke-width="2.6"/>
<line x1="530.4" y1="464.3" x2="530.4" y2="497.2" stroke="#000" stroke-width="1" />
<line x1="535.6" y1="464.3" x2="535.6" y2="497.2" stroke="#000" stroke-width="1.4" />
<line x1="540.8" y1="464.3" x2="540.8" y2="497.2" stroke="#000" stroke-width="2" />
<line x1="527" y1="467.8" x2="541" y2="467.8" stroke="#000" stroke-width="1" />
<line x1="527" y1="493.7" x2="541" y2="493.7" stroke="#000" stroke-width="1" />
<rect x="541.9" y="463.8" width="34.3" height="34.4" fill="#fff" stroke="#000" stroke-width="1.6"/>
<rect x="541.9" y="463.8" width="34.3" height="7.9" fill="#000" />
<rect x="541.9" y="490.4" width="34.3" height="7.8" fill="#000" />
<line x1="544" y1="467.6" x2="572" y2="467.6" stroke="#777" stroke-width="1.2" />
<line x1="544" y1="494.2" x2="572" y2="494.2" stroke="#777" stroke-width="1.2" />
<line x1="541.9" y1="475.8" x2="576" y2="475.8" stroke="#000" stroke-width="1.4" />
<line x1="541.9" y1="485.7" x2="576" y2="485.7" stroke="#000" stroke-width="1.4" />
<line x1="572" y1="464.3" x2="572" y2="497.2" stroke="#000" stroke-width="1" />
<line x1="574.5" y1="464.3" x2="574.5" y2="497.2" stroke="#000" stroke-width="1" />
<rect x="553.5" y="479.3" width="3.5" height="3.4" fill="none" stroke="#000" stroke-width="1.1" />
<rect x="539.8" y="498.2" width="16.4" height="8.8" fill="#fff" stroke="#000" stroke-width="2.4" rx="1"/>
<path d="M526.6,649.0 L530,645.3 L541.9,645.3 L541.9,680.1999999999999 L530,680.1999999999999 L526.6,676.4999999999999 Z" fill="#fff" stroke="#000" stroke-width="2.6"/>
<line x1="530.4" y1="646.3" x2="530.4" y2="679.1999999999999" stroke="#000" stroke-width="1" />
<line x1="535.6" y1="646.3" x2="535.6" y2="679.1999999999999" stroke="#000" stroke-width="1.4" />
<line x1="540.8" y1="646.3" x2="540.8" y2="679.1999999999999" stroke="#000" stroke-width="2" />
<line x1="527" y1="649.8" x2="541" y2="649.8" stroke="#000" stroke-width="1" />
<line x1="527" y1="675.6999999999999" x2="541" y2="675.6999999999999" stroke="#000" stroke-width="1" />
<rect x="541.9" y="645.8" width="34.3" height="34.4" fill="#fff" stroke="#000" stroke-width="1.6"/>
<rect x="541.9" y="645.8" width="34.3" height="7.9" fill="#000" />
<rect x="541.9" y="672.4" width="34.3" height="7.8" fill="#000" />
<line x1="544" y1="649.5999999999999" x2="572" y2="649.5999999999999" stroke="#777" stroke-width="1.2" />
<line x1="544" y1="676.1999999999999" x2="572" y2="676.1999999999999" stroke="#777" stroke-width="1.2" />
<line x1="541.9" y1="657.8" x2="576" y2="657.8" stroke="#000" stroke-width="1.4" />
<line x1="541.9" y1="667.6999999999999" x2="576" y2="667.6999999999999" stroke="#000" stroke-width="1.4" />
<line x1="572" y1="646.3" x2="572" y2="679.1999999999999" stroke="#000" stroke-width="1" />
<line x1="574.5" y1="646.3" x2="574.5" y2="679.1999999999999" stroke="#000" stroke-width="1" />
<rect x="553.5" y="661.3" width="3.5" height="3.4" fill="none" stroke="#000" stroke-width="1.1" />
<rect x="539.8" y="636.5" width="16.4" height="8.8" fill="#fff" stroke="#000" stroke-width="2.4" rx="1"/>
<rect x="582.2" y="457.6" width="5.5" height="45.3" fill="none" stroke="#000" stroke-width="1.4" />
<line x1="587.7" y1="459.1" x2="591.8" y2="472.6" stroke="#000" stroke-width="1.5" />
<line x1="587.7" y1="501.6" x2="591.8" y2="487.6" stroke="#000" stroke-width="1.5" />
<line x1="587.7" y1="472.6" x2="600" y2="472.6" stroke="#000" stroke-width="1.2" />
<line x1="587.7" y1="487.6" x2="600" y2="487.6" stroke="#000" stroke-width="1.2" />
<path d="M600,458.1 Q606,480.6 600,503.6" fill="none" stroke="#000" stroke-width="1.6"/>
<path d="M600,465.6 L606,460.6 M600,495.6 L606,500.6" fill="none" stroke="#000" stroke-width="1.3" />
<rect x="605.4" y="458.1" width="40.6" height="45.6" fill="none" stroke="#000" stroke-width="1.5" />
<line x1="610.6" y1="458.1" x2="610.6" y2="503.6" stroke="#000" stroke-width="1.3" />
<line x1="618.4" y1="458.1" x2="618.4" y2="503.6" stroke="#000" stroke-width="1.3" />
<line x1="633" y1="458.1" x2="633" y2="503.6" stroke="#000" stroke-width="1.3" />
<line x1="640" y1="458.1" x2="640" y2="503.6" stroke="#000" stroke-width="1.3" />
<rect x="587.7" y="479.6" width="62.3" height="2.5" fill="#222" />
<rect x="620" y="461.20000000000005" width="10.3" height="43.5" fill="#000" rx="2"/>
<rect x="624" y="466.6" width="2.8" height="38" fill="#1a9a2a" />
<path d="M646,462.6 L650,465.6 L650,495.6 L646,498.6" fill="none" stroke="#000" stroke-width="1.8" />
<path d="M608,461.6 Q612,458.6 616,461.6 M608,499.6 Q612,502.6 616,499.6" fill="none" stroke="#000" stroke-width="1.5" />
<path d="M634,461.6 L644,459.1 M634,499.6 L644,502.1" fill="none" stroke="#000" stroke-width="1.5" />
<rect x="582.2" y="636.5" width="5.5" height="45.3" fill="none" stroke="#000" stroke-width="1.4" />
<line x1="587.7" y1="638.0" x2="591.8" y2="651.5" stroke="#000" stroke-width="1.5" />
<line x1="587.7" y1="680.5" x2="591.8" y2="666.5" stroke="#000" stroke-width="1.5" />
<line x1="587.7" y1="651.5" x2="600" y2="651.5" stroke="#000" stroke-width="1.2" />
<line x1="587.7" y1="666.5" x2="600" y2="666.5" stroke="#000" stroke-width="1.2" />
<path d="M600,637.0 Q606,659.5 600,682.5" fill="none" stroke="#000" stroke-width="1.6"/>
<path d="M600,644.5 L606,639.5 M600,674.5 L606,679.5" fill="none" stroke="#000" stroke-width="1.3" />
<rect x="605.4" y="637.0" width="40.6" height="45.6" fill="none" stroke="#000" stroke-width="1.5" />
<line x1="610.6" y1="637.0" x2="610.6" y2="682.5" stroke="#000" stroke-width="1.3" />
<line x1="618.4" y1="637.0" x2="618.4" y2="682.5" stroke="#000" stroke-width="1.3" />
<line x1="633" y1="637.0" x2="633" y2="682.5" stroke="#000" stroke-width="1.3" />
<line x1="640" y1="637.0" x2="640" y2="682.5" stroke="#000" stroke-width="1.3" />
<rect x="587.7" y="658.5" width="62.3" height="2.5" fill="#222" />
<rect x="620" y="640.1" width="10.3" height="43.5" fill="#000" rx="2"/>
<rect x="624" y="645.5" width="2.8" height="38" fill="#1a9a2a" />
<path d="M646,641.5 L650,644.5 L650,674.5 L646,677.5" fill="none" stroke="#000" stroke-width="1.8" />
<path d="M608,640.5 Q612,637.5 616,640.5 M608,678.5 Q612,681.5 616,678.5" fill="none" stroke="#000" stroke-width="1.5" />
<path d="M634,640.5 L644,638.0 M634,678.5 L644,681.0" fill="none" stroke="#000" stroke-width="1.5" />
<line x1="525.5" y1="481" x2="548" y2="481" stroke="#d81119" stroke-width="1.8" />
<line x1="525.5" y1="663" x2="548" y2="663" stroke="#d81119" stroke-width="1.8" />
<line x1="40.8" y1="364.3" x2="40.8" y2="437" stroke="#24e82c" stroke-width="3" />
<line x1="799.7" y1="364.3" x2="799.7" y2="434.8" stroke="#24e82c" stroke-width="3" />
<line x1="44" y1="368" x2="797" y2="368" stroke="#24e82c" stroke-width="3" />
<line x1="792" y1="419.8" x2="861.6" y2="419.8" stroke="#24e82c" stroke-width="2.5" />
<line x1="785" y1="723.8" x2="862" y2="723.8" stroke="#24e82c" stroke-width="2.5" />
<line x1="859.1" y1="421.8" x2="859.1" y2="722" stroke="#24e82c" stroke-width="2.4" />
<text x="375.00" y="366.60" font-family="Liberation Serif" font-size="22.52" fill="#222" stroke="#fff" stroke-width="0.35" textLength="44.20" lengthAdjust="spacingAndGlyphs">5000</text>
<text x="0" y="0" transform="translate(857.20,593.34) rotate(-90)" font-family="Liberation Serif" font-size="23.41" fill="#222" stroke="#fff" stroke-width="0.35" textLength="43.77" lengthAdjust="spacingAndGlyphs">2000</text>
<polyline points="205.9,435 225.7,355.1 240.6,355.1" fill="none" stroke="#24e82c" stroke-width="2" />
<polyline points="382,530 428.3,354.8 455.9,354.8" fill="none" stroke="#24e82c" stroke-width="2" />
<polyline points="711.9,555.9 752.3,344.2 777.7,344.2" fill="none" stroke="#24e82c" stroke-width="2" />
<text x="231" y="353.3" font-family="Liberation Sans" font-weight="bold" font-size="14.5" fill="#000" textLength="6" lengthAdjust="spacingAndGlyphs">4</text>
<text x="438.7" y="353" font-family="Liberation Sans" font-weight="bold" font-size="14.5" fill="#000" textLength="6" lengthAdjust="spacingAndGlyphs">5</text>
<text x="762.1" y="342.6" font-family="Liberation Sans" font-weight="bold" font-size="14.5" fill="#000" textLength="6" lengthAdjust="spacingAndGlyphs">6</text>
<text x="317" y="500.4" font-family="Liberation Sans" font-size="22.5" fill="#24e82c" stroke="#fff" stroke-width="0.5" textLength="79" lengthAdjust="spacing">Lithium</text>
<text x="317" y="525.3" font-family="Liberation Sans" font-size="22.5" fill="#24e82c" stroke="#fff" stroke-width="0.5" textLength="80.5" lengthAdjust="spacing">battery</text>
<text x="0" y="0" transform="translate(716.5,601) rotate(-90)" font-family="Liberation Sans" font-size="22" fill="#24e82c" stroke="#fff" stroke-width="0.5" textLength="79" lengthAdjust="spacing">Electric</text>
<text x="0" y="0" transform="translate(743.5,601) rotate(-90)" font-family="Liberation Sans" font-size="22" fill="#24e82c" stroke="#fff" stroke-width="0.5" textLength="78" lengthAdjust="spacing">control</text>
<text x="0" y="0" transform="translate(768,601) rotate(-90)" font-family="Liberation Sans" font-size="22" fill="#24e82c" stroke="#fff" stroke-width="0.5" textLength="34" lengthAdjust="spacing">box</text>
<polyline points="382,530 428.3,354.8 455.9,354.8" fill="none" stroke="#24e82c" stroke-width="2" />
<polyline points="711.9,555.9 752.3,344.2 777.7,344.2" fill="none" stroke="#24e82c" stroke-width="2" />
<line x1="1095.3" y1="536" x2="1095.3" y2="742" stroke="#000" stroke-width="1.6" />
<line x1="992" y1="638.2" x2="1199" y2="638.2" stroke="#000" stroke-width="1.6" />
<polyline points="1088.3,543 1095.3,535.5 1102.5,543" fill="none" stroke="#000" stroke-width="1.6" />
<polyline points="1088.3,733.6 1095.3,741.5 1102.9,733.6" fill="none" stroke="#000" stroke-width="1.6" />
<polyline points="1000.4,631 992.3,638.2 1000.4,646" fill="none" stroke="#000" stroke-width="1.6" />
<polyline points="1191,631 1199,638.2 1191,646" fill="none" stroke="#000" stroke-width="1.6" />
<text x="0" y="0" transform="translate(1063.5,530.4) scale(0.9,1)" font-family="Liberation Serif" font-size="26" fill="#1a1a1a" textLength="75.0" lengthAdjust="spacing">North</text>
<text x="0" y="0" transform="translate(932.5,661.4) scale(0.9,1)" font-family="Liberation Serif" font-size="26" fill="#1a1a1a" textLength="57.2" lengthAdjust="spacing">East</text>
<text x="0" y="0" transform="translate(1225.5,665) scale(0.9,1)" font-family="Liberation Serif" font-size="26" fill="#1a1a1a" textLength="57.8" lengthAdjust="spacing">West</text>
<text x="0" y="0" transform="translate(1061.5,801) scale(0.9,1)" font-family="Liberation Serif" font-size="26" fill="#1a1a1a" textLength="72.2" lengthAdjust="spacing">South</text>
<path d="M1095,478 L1095,501 M1086,486 L1095,486 M1086,497.5 L1095,493.5 M1100.7,478.5 L1100.7,498 Q1100.7,500 1103,500 L1109,500 L1109,496.5 M1100.7,491 L1108,484" fill="none" stroke="#1a1a1a" stroke-width="1.9" />
<path d="M948,614 L969,614 M955,609 L951,622 L968,622 M959,617 L959,631 Q959,634 956,633 M953,626 L948,632 M964,626 L969,631" fill="none" stroke="#1a1a1a" stroke-width="1.6" />
<path d="M1240,616 L1262.4,616 M1242,622 L1242,636.5 M1242,622 L1260,622 L1260,636.5 M1242,634 L1260,634 M1248,616 L1248,626 Q1248,629 1244,630 M1254,616 L1254,629 L1259,629" fill="none" stroke="#1a1a1a" stroke-width="1.6" />
<path d="M1084,753 L1106.7,753 M1095,749.8 L1095,757 M1086,758 L1086,773 M1086,758 L1104,758 L1104,771 Q1104,773 1101,773 M1090,761 L1093,764 M1100,761 L1097,764 M1089,765 L1101,765 M1089,769 L1101,769 M1095,765 L1095,773" fill="none" stroke="#1a1a1a" stroke-width="1.6" />
</svg></body></html>
